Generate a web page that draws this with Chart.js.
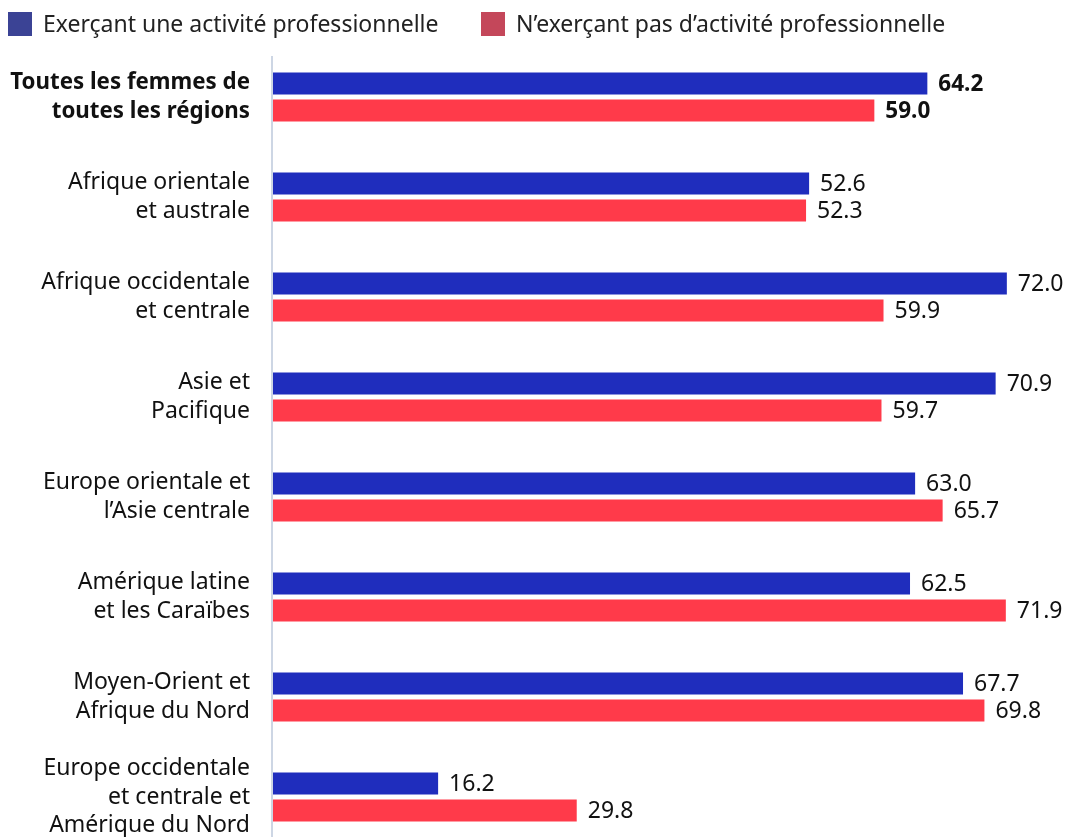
<!DOCTYPE html>
<html lang="fr">
<head>
<meta charset="utf-8">
<script src="https://cdn.jsdelivr.net/npm/chart.js@4.4.1/dist/chart.umd.min.js"></script>
<style>
  html, body { margin: 0; padding: 0; background: #fff; overflow: hidden; }
  #wrap { width: 1070px; height: 860px; }
</style>
</head>
<body>
<div id="wrap"><canvas id="chart" width="1070" height="860"></canvas></div>
<script>
// Regions (multi-line labels)
const regions = [
  ['Toutes les femmes de', 'toutes les régions'],
  ['Afrique orientale', 'et australe'],
  ['Afrique occidentale', 'et centrale'],
  ['Asie et', 'Pacifique'],
  ['Europe orientale et', 'l’Asie centrale'],
  ['Amérique latine', 'et les Caraïbes'],
  ['Moyen-Orient et', 'Afrique du Nord'],
  ['Europe occidentale', 'et centrale et', 'Amérique du Nord']
];

const seriesNames = [
  'Exerçant une activité professionnelle',
  'N’exerçant pas d’activité professionnelle'
];

// Share (%) per region
const employed    = [64.2, 52.6, 72.0, 70.9, 63.0, 62.5, 67.7, 16.2];
const notEmployed = [59.0, 52.3, 59.9, 59.7, 65.7, 71.9, 69.8, 29.8];

const barColors    = ['#1f2dbd', '#ff3a4a'];
const legendColors = ['#3b4395', '#c4475a'];

const labelFont = '"Noto Sans", "Open Sans", sans-serif';

// Legend row drawn across the top of the canvas
const legendRow = {
  id: 'legendRow',
  afterDraw(chart) {
    const ctx = chart.ctx;
    const items = [{ x: 8 }, { x: 481 }];
    ctx.save();
    ctx.font = '23px ' + labelFont;
    ctx.textBaseline = 'middle';
    ctx.textAlign = 'left';
    items.forEach((it, i) => {
      ctx.fillStyle = legendColors[i];
      ctx.fillRect(it.x, 12, 24, 24);
      ctx.fillStyle = '#222';
      ctx.fillText(seriesNames[i], it.x + 35, 25);
    });
    ctx.restore();
  }
};

// Thin vertical baseline at zero
const zeroLine = {
  id: 'zeroLine',
  beforeDatasetsDraw(chart) {
    const { ctx, chartArea } = chart;
    const x = chart.scales.x.getPixelForValue(0) - 1;
    ctx.save();
    ctx.strokeStyle = '#cdd6e4';
    ctx.lineWidth = 2;
    ctx.beginPath();
    ctx.moveTo(x, chartArea.top + 9);
    ctx.lineTo(x, chart.height);
    ctx.stroke();
    ctx.restore();
  }
};

// Value labels at the end of each bar
const valueLabels = {
  id: 'valueLabels',
  afterDatasetsDraw(chart) {
    const ctx = chart.ctx;
    ctx.save();
    ctx.textBaseline = 'middle';
    ctx.textAlign = 'left';
    ctx.fillStyle = '#111';
    chart.data.datasets.forEach((ds, di) => {
      chart.getDatasetMeta(di).data.forEach((bar, i) => {
        ctx.font = (i === 0 ? 'bold 22.5px ' : '23px ') + labelFont;
        ctx.fillText(ds.data[i].toFixed(1), bar.x + 11, bar.y + 1);
      });
    });
    ctx.restore();
  }
};

new Chart(document.getElementById('chart'), {
  type: 'bar',
  data: {
    labels: regions,
    datasets: [
      { label: seriesNames[0], data: employed, backgroundColor: barColors[0] },
      { label: seriesNames[1], data: notEmployed, backgroundColor: barColors[1] }
    ]
  },
  options: {
    indexAxis: 'y',
    responsive: false,
    animation: false,
    layout: { padding: { top: 47, bottom: 13, left: 0, right: 2 } },
    categoryPercentage: 0.54,
    barPercentage: 0.815,
    plugins: {
      legend: { display: false },
      tooltip: { enabled: false }
    },
    scales: {
      x: {
        min: 0,
        max: 78,
        display: false
      },
      y: {
        grid: { display: false, drawTicks: false },
        border: { display: false },
        afterFit(scale) {
          scale.width = 273;
          scale.paddingTop = 0;
          scale.paddingBottom = 0;
        },
        ticks: {
          padding: 23,
          color: '#111',
          font: (c) => ({
            family: labelFont,
            size: c.index === 0 ? 22.3 : 23,
            lineHeight: c.index === 0 ? 1.27 : 1.23,
            weight: c.index === 0 ? 'bold' : 'normal'
          })
        }
      }
    }
  },
  plugins: [legendRow, zeroLine, valueLabels]
});
</script>
</body>
</html>
